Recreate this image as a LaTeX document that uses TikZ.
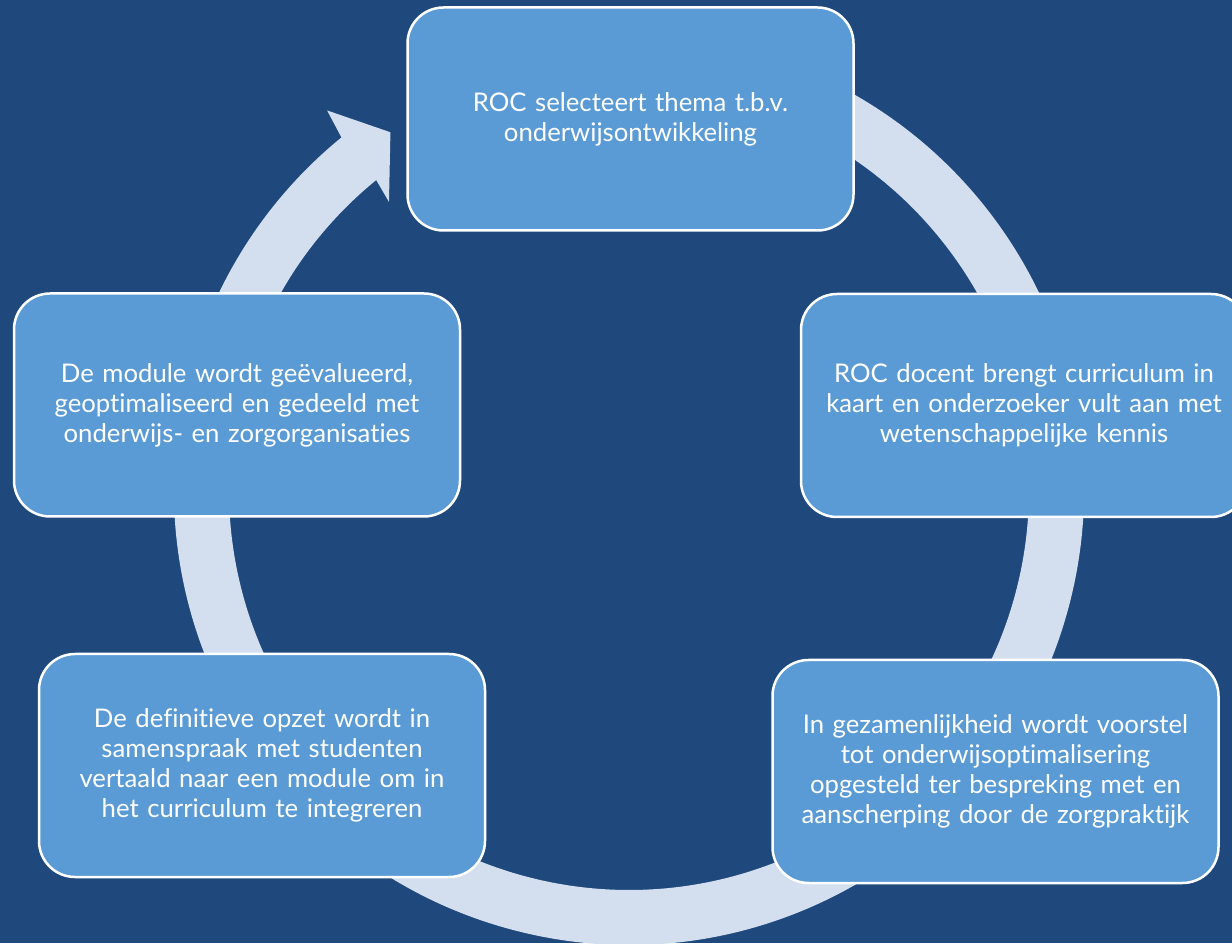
\documentclass[tikz,border=0pt]{standalone}
\usepackage{fontspec}
\setmainfont[Ligatures=NoCommon]{Lato}
\usetikzlibrary{calc}
\definecolor{bgblue}{RGB}{31,73,125}
\definecolor{boxblue}{RGB}{91,155,213}
\definecolor{ringgrey}{RGB}{211,222,239}
\begin{document}
\begin{tikzpicture}[x=1pt,y=1pt,
		stepbox/.style={draw=white, line width=2.5pt, fill=boxblue, rounded corners=36pt,
			minimum width=446pt, minimum height=223pt, text width=420pt, align=center,
			text=white, font=\fontsize{25.7}{30}\selectfont, inner sep=0pt}]
				\useasboundingbox (0,0) rectangle (1232,943);
				\clip (0,0) rectangle (1232,943);
				\fill[bgblue] (0,0) rectangle (1232,943);
				\coordinate (c) at (629,453);
				% ring with arrow head
				\fill[ringgrey] ($(c)+(75:455)$) arc[start angle=75, end angle=-230.8, radius=455]
					-- ($(c)+(-231.5:485)$) -- ($(c)+(-236.3:430)$) -- ($(c)+(-230.2:375)$)
					-- ($(c)+(-230.8:400)$) arc[start angle=-230.8, end angle=75, radius=400] -- cycle;
				\node (t) [stepbox] at (630.5,824) {ROC selecteert thema t.b.v.\\ onderwijsontwikkeling};
				\node (r) [stepbox] at (1024,537.5) {ROC docent brengt curriculum in\\ kaart en onderzoeker vult aan met\\ wetenschappelijke kennis};
				\node (br) [stepbox] at (995.5,171.5) {In gezamenlijkheid wordt voorstel\\ tot onderwijsoptimalisering\\ opgesteld ter bespreking met en\\ aanscherping door de zorgpraktijk};
				\node (bl) [stepbox] at (262,177.5) {De definitieve opzet wordt in\\ samenspraak met studenten\\ vertaald naar een module om in\\ het curriculum te integreren};
				\node (l) [stepbox] at (237,538) {De module wordt geëvalueerd,\\ geoptimaliseerd en gedeeld met\\ onderwijs- en zorgorganisaties};
			\end{tikzpicture}
\end{document}
